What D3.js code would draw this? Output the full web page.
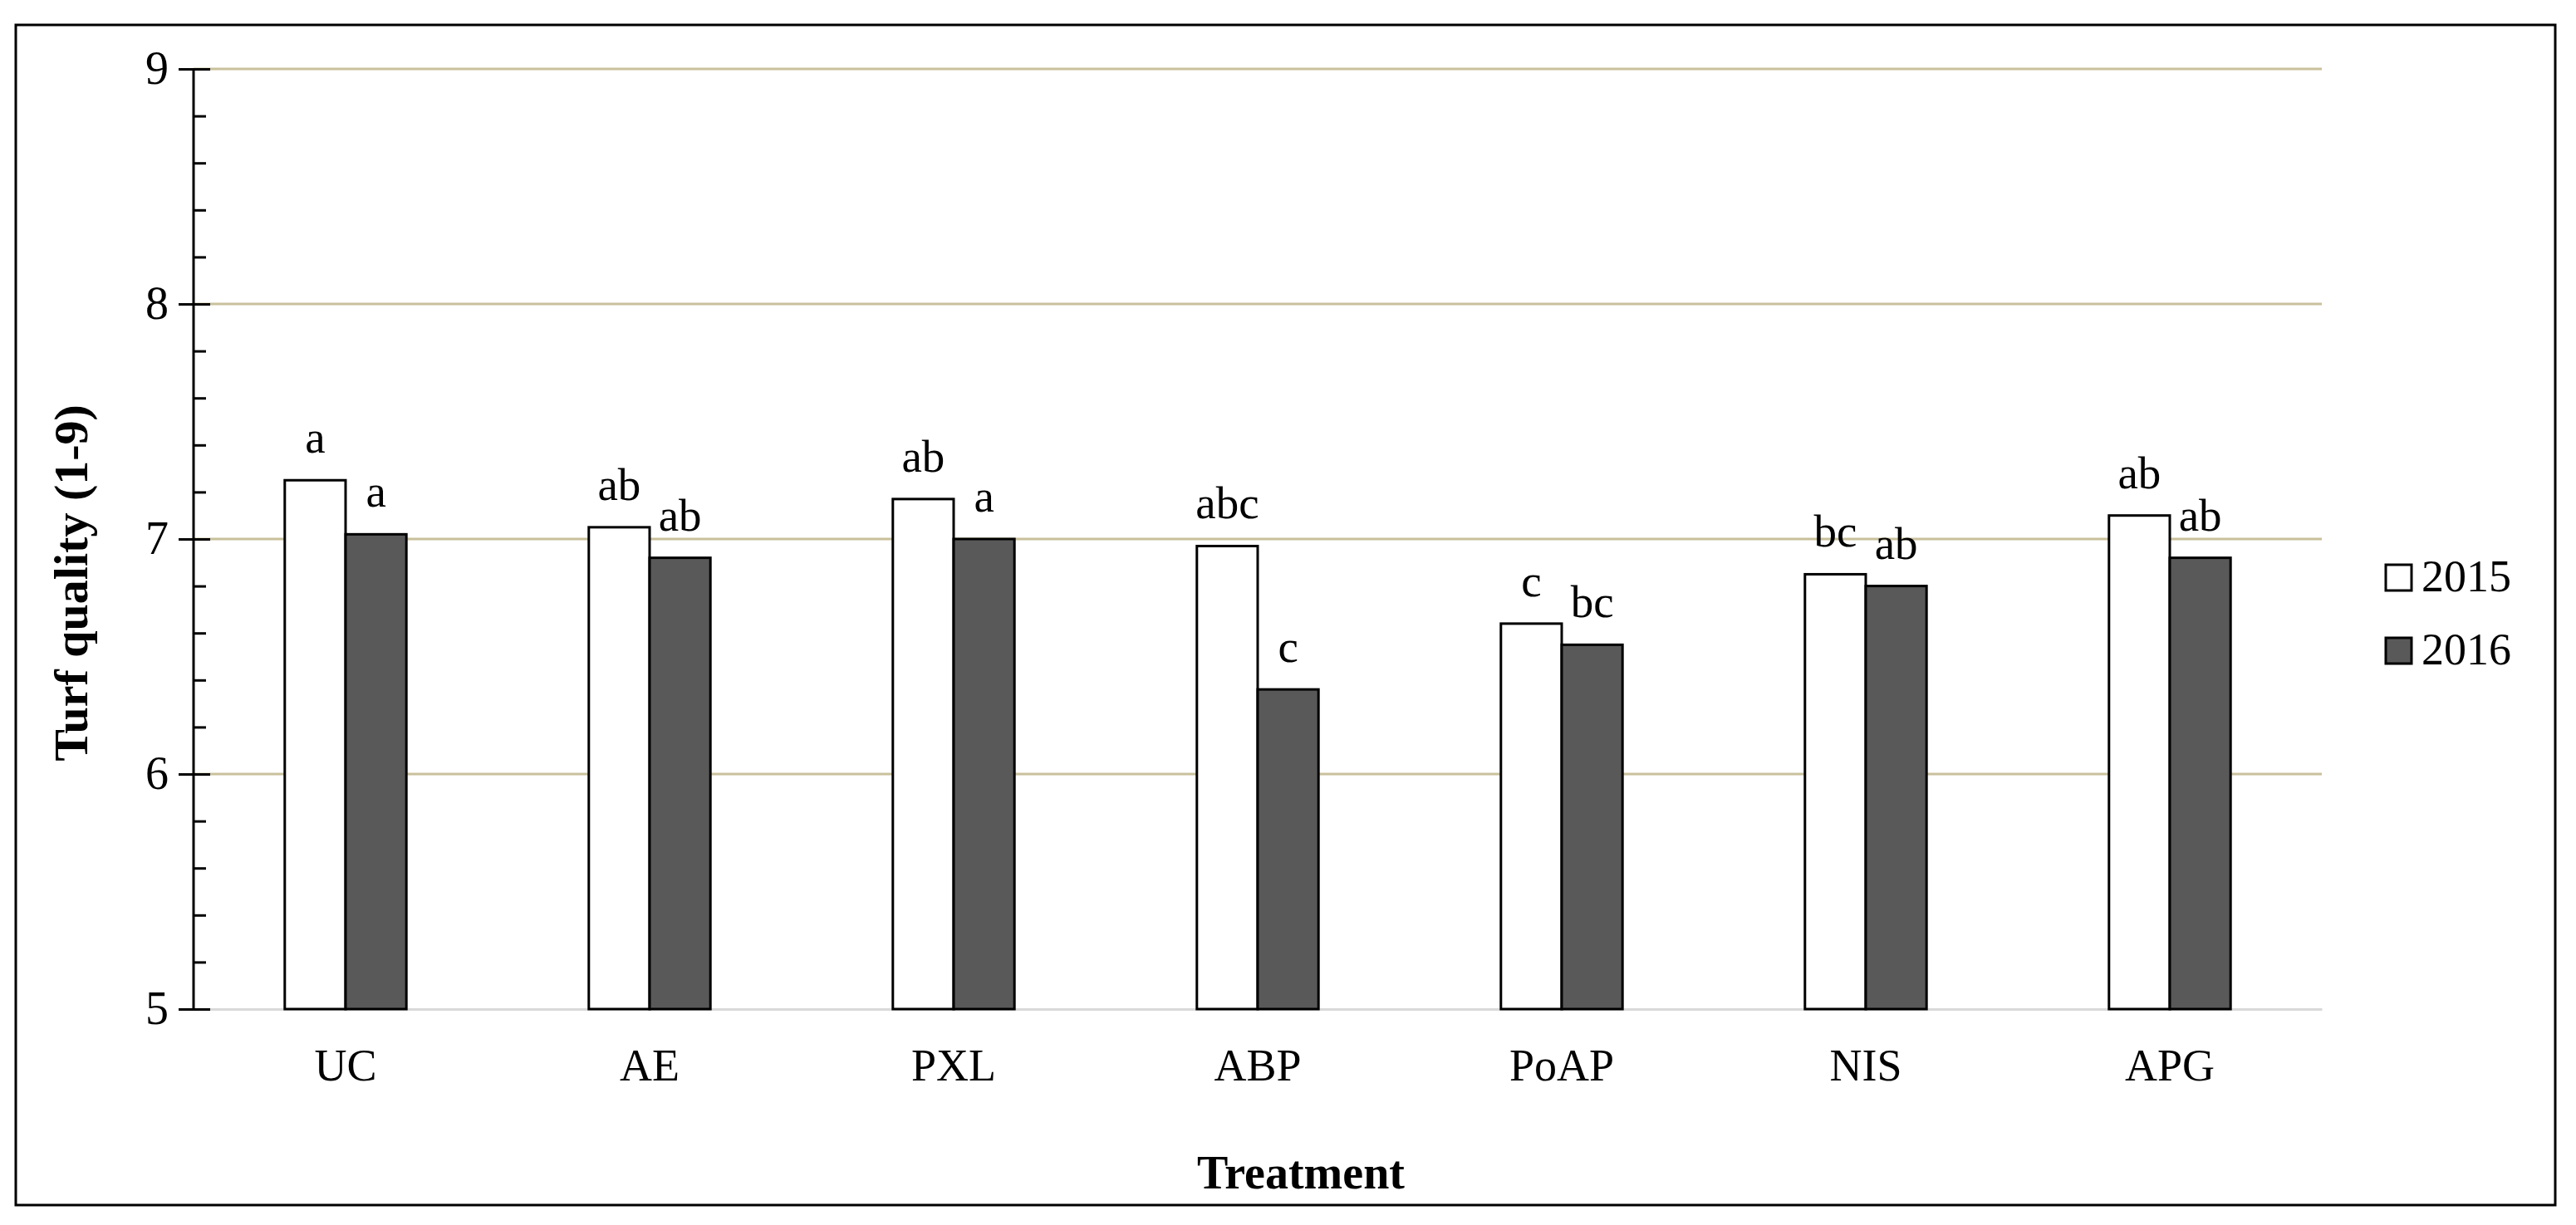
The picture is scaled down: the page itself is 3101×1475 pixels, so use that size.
<html>
<head>
<meta charset="utf-8">
<script src="https://d3js.org/d3.v7.min.js"></script>
<style>
  body { margin: 0; background: #fff; }
  text { font-family: "Liberation Serif", "Times New Roman", serif; fill: #000; }
</style>
</head>
<body>
<script>
// data
var treatments = ["UC", "AE", "PXL", "ABP", "PoAP", "NIS", "APG"];
var years = ["2015", "2016"];
var q2015 = [7.25, 7.05, 7.17, 6.97, 6.64, 6.85, 7.10];
var q2016 = [7.02, 6.92, 7.00, 6.36, 6.55, 6.80, 6.92];
var let2015 = ["a", "ab", "ab", "abc", "c", "bc", "ab"];
var let2016 = ["a", "ab", "a", "c", "bc", "ab", "ab"];
var yTicks = [5, 6, 7, 8, 9];

var w = 3101, h = 1475;
var pLeft = 233, pRight = 2795, pTop = 83, pBottom = 1215;
var fills = {"2015": "#ffffff", "2016": "#595959"};

var rows = [];
treatments.forEach(function(t, i){
  rows.push({t: t, year: "2015", v: q2015[i], lab: let2015[i]});
  rows.push({t: t, year: "2016", v: q2016[i], lab: let2016[i]});
});

var svg = d3.select("body").append("svg").attr("width", w).attr("height", h);

// outer frame
svg.append("rect").attr("x", 19).attr("y", 30).attr("width", 3057).attr("height", 1421)
  .attr("fill", "none").attr("stroke", "#000").attr("stroke-width", 3);

var x0 = d3.scaleBand().domain(treatments).range([pLeft, pRight]).paddingInner(0.6).paddingOuter(0.3);
var x1 = d3.scaleBand().domain(years).range([0, x0.bandwidth()]);
var y = d3.scaleLinear().domain([5, 9]).range([pBottom, pTop]);

// gridlines
svg.append("g").selectAll("line").data(yTicks.filter(function(d){ return d > 5; })).enter().append("line")
  .attr("x1", pLeft).attr("x2", pRight)
  .attr("y1", function(d){ return y(d); }).attr("y2", function(d){ return y(d); })
  .attr("stroke", "#c9c09c").attr("stroke-width", 3);

// x axis
var xAxis = svg.append("g").attr("transform", "translate(0," + pBottom + ")")
  .call(d3.axisBottom(x0).tickSize(0).tickPadding(48));
xAxis.select(".domain").attr("stroke", "#d9d9d9").attr("stroke-width", 3);
xAxis.selectAll("text").attr("font-size", 54).attr("font-family", "Liberation Serif");

// bars
svg.append("g").selectAll("rect").data(rows).enter().append("rect")
  .attr("x", function(d){ return x0(d.t) + x1(d.year); })
  .attr("y", function(d){ return y(d.v); })
  .attr("width", x1.bandwidth())
  .attr("height", function(d){ return y(5) - y(d.v); })
  .attr("fill", function(d){ return fills[d.year]; })
  .attr("stroke", "#000").attr("stroke-width", 3);

// significance letters
svg.append("g").selectAll("text").data(rows).enter().append("text")
  .attr("x", function(d){ return x0(d.t) + x1(d.year) + x1.bandwidth() / 2; })
  .attr("y", function(d){ return y(d.v) - 33; })
  .attr("text-anchor", "middle").attr("font-size", 55)
  .text(function(d){ return d.lab; });

// y axis, major ticks cross the line
var yAxis = svg.append("g").attr("transform", "translate(" + pLeft + ",0)")
  .call(d3.axisLeft(y).tickValues(yTicks).tickSize(18).tickPadding(12).tickFormat(d3.format("d")));
yAxis.select(".domain").remove();
yAxis.selectAll(".tick line").attr("x1", 20).attr("stroke", "#000").attr("stroke-width", 3);
yAxis.selectAll("text").attr("font-size", 56).attr("font-family", "Liberation Serif");
yAxis.append("line").attr("x1", 0).attr("x2", 0).attr("y1", y(9)).attr("y2", y(5))
  .attr("stroke", "#000").attr("stroke-width", 3);

// minor ticks
var minor = d3.range(50, 91, 2).map(function(d){ return d / 10; }).filter(function(d){ return d % 1 !== 0; });
var yMinor = svg.append("g").attr("transform", "translate(" + pLeft + ",0)")
  .call(d3.axisRight(y).tickValues(minor).tickSize(15).tickFormat(""));
yMinor.select(".domain").remove();
yMinor.selectAll(".tick line").attr("stroke", "#000").attr("stroke-width", 3);

// axis titles
svg.append("text").attr("x", 1566).attr("y", 1431)
  .attr("text-anchor", "middle").attr("font-size", 56).attr("font-weight", "bold")
  .text("Treatment");
svg.append("text").attr("transform", "translate(85,702) rotate(-90)")
  .attr("text-anchor", "middle").attr("dominant-baseline", "central")
  .attr("font-size", 58).attr("font-weight", "bold")
  .text("Turf quality (1-9)");

// legend
var legend = svg.append("g").selectAll("g").data(years).enter().append("g")
  .attr("transform", function(d, i){ return "translate(2872," + (680 + i * 88) + ")"; });
legend.append("rect").attr("width", 31).attr("height", 31)
  .attr("fill", function(d){ return fills[d]; }).attr("stroke", "#000").attr("stroke-width", 3);
legend.append("text").attr("x", 43).attr("y", 32).attr("font-size", 54)
  .text(function(d){ return d; });
</script>
</body>
</html>
